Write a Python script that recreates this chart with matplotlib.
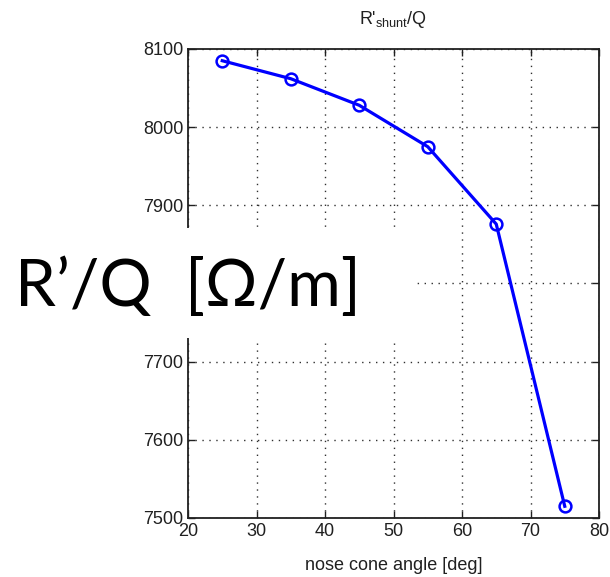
import matplotlib
matplotlib.use("agg")
import matplotlib.pyplot as plt
from matplotlib.patches import Rectangle

# data
angle = [25, 35, 45, 55, 65, 75]
r_over_q = [8085, 8062, 8028, 7975, 7876, 7515]
x_ticks = [20, 30, 40, 50, 60, 70, 80]
y_ticks = [7500, 7600, 7700, 7800, 7900, 8000, 8100]

plt.rcParams['font.family'] = ['Liberation Sans', 'DejaVu Sans']

fig = plt.figure(figsize=(6.1, 5.77), dpi=100)
ax = fig.add_axes([188 / 610, 1 - 518 / 577, 411 / 610, 469 / 577])

ax.plot(angle, r_over_q, color='#0000ff', linewidth=2.3, marker='o',
        markersize=8.5, markerfacecolor='none', markeredgewidth=1.8)

ax.set_xlim(20, 80)
ax.set_ylim(7500, 8100)
ax.set_xticks(x_ticks)
ax.set_yticks(y_ticks)
ax.grid(True, linestyle=(0, (1, 4)), color='#303030', linewidth=1.0)
ax.tick_params(direction='in', length=5, width=1.0, labelsize=13,
               top=True, right=True, colors='#202020')
for s in ax.spines.values():
    s.set_linewidth(1.3)
    s.set_color('#202020')

ax.set_title("R'$_\\mathregular{shunt}$/Q", fontsize=13, pad=18, color='#202020')
ax.set_xlabel('nose cone angle [deg]', fontsize=13, color='#202020', labelpad=12)

# white box with the large overlay label
fig.patches.append(Rectangle((0, 1 - 338 / 577), 413 / 610, 110 / 577,
                             transform=fig.transFigure, facecolor='white',
                             edgecolor='none', zorder=5))
fig.text(15 / 610, 1 - 287 / 577, "R\u2019/Q  [\u03a9/m]", fontsize=47,
         family=['Lato', 'DejaVu Sans'], va='center', ha='left', zorder=6)

fig.savefig('out.png', dpi=100)
